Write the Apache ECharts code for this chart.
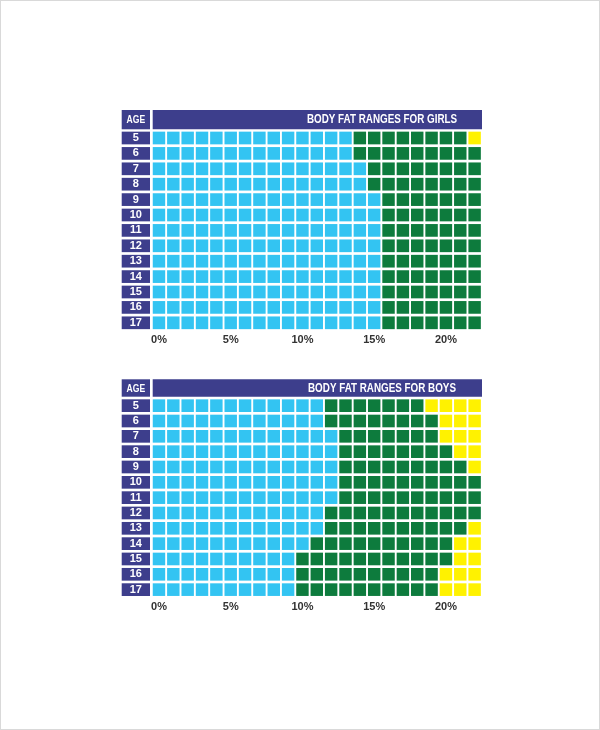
<!DOCTYPE html>
<html>
<head>
<meta charset="utf-8">
<script src="https://cdn.jsdelivr.net/npm/echarts@6/dist/echarts.min.js"></script>
<style>
html,body{margin:0;padding:0;background:#fff;}
#frame{position:absolute;left:0;top:0;width:598px;height:728px;border:1px solid #d9d9d9;}
#chart{position:absolute;left:0;top:0;width:600px;height:730px;}
</style>
</head>
<body>
<div id="frame"></div>
<div id="chart"></div>
<script>
// ---- data ----
const ages = ['5','6','7','8','9','10','11','12','13','14','15','16','17'];
const columns = ['0','1','2','3','4','5','6','7','8','9','10','11','12','13','14','15','16','17','18','19','20','21','22'];
const tickPositions = [0, 5, 10, 15, 20];
const tickLabels = ['0%', '5%', '10%', '15%', '20%'];

// number of cells per age row in each range (lean / healthy / high)
const girlsBlue   = [14, 14, 15, 15, 16, 16, 16, 16, 16, 16, 16, 16, 16];
const girlsGreen  = [ 8,  9,  8,  8,  7,  7,  7,  7,  7,  7,  7,  7,  7];
const girlsYellow = [ 1,  0,  0,  0,  0,  0,  0,  0,  0,  0,  0,  0,  0];

const boysBlue    = [12, 12, 13, 13, 13, 13, 13, 12, 12, 11, 10, 10, 10];
const boysGreen   = [ 7,  8,  7,  8,  9, 10, 10, 11, 10, 10, 11, 10, 10];
const boysYellow  = [ 4,  3,  3,  2,  1,  0,  0,  0,  1,  2,  2,  3,  3];

const girlsTitle = 'BODY FAT RANGES FOR GIRLS';
const boysTitle = 'BODY FAT RANGES FOR BOYS';
const ageHeader = 'AGE';

// ---- styles ----
const COLORS = ['#33c4f2', '#0d7b3d', '#fff200'];
const NAVY = '#3d3e8c';
const FONT = "'Liberation Sans', Arial, sans-serif";

function buildCells(blue, green, yellow) {
  const out = [];
  for (let r = 0; r < ages.length; r++) {
    let c = 0;
    for (let k = 0; k < blue[r]; k++) out.push([c++, r, 0]);
    for (let k = 0; k < green[r]; k++) out.push([c++, r, 1]);
    for (let k = 0; k < yellow[r]; k++) out.push([c++, r, 2]);
  }
  return out;
}

const GAPX = 1.9, GAPY = 2.7;
function renderCell(params, api) {
  const p = api.coord([api.value(0), api.value(1)]);
  const s = api.size([1, 1]);
  const w = s[0] - GAPX, h = s[1] - GAPY;
  return {
    type: 'rect',
    shape: { x: p[0] - w / 2, y: p[1] - h / 2, width: w, height: h },
    style: { fill: COLORS[api.value(2)] }
  };
}

const grids = [
  { left: 151.8, width: 330, top: 130.3, height: 200.2 },
  { left: 151.8, width: 330, top: 398.0, height: 199.3 }
];

function xAxisFor(i) {
  return {
    type: 'category', gridIndex: i, data: columns,
    axisLine: { show: false }, axisTick: { show: false }, splitLine: { show: false },
    axisLabel: {
      interval: 0, margin: 4, color: '#333', fontWeight: 'bold', fontSize: 11, fontFamily: FONT,
      formatter: function (v, idx) {
        const j = tickPositions.indexOf(idx);
        return j >= 0 ? tickLabels[j] : '';
      }
    }
  };
}
function yAxisFor(i) {
  return {
    type: 'category', gridIndex: i, data: ages, inverse: true,
    axisLine: { show: false }, axisTick: { show: false }, splitLine: { show: false },
    axisLabel: {
      margin: 1.8 + 14.15, color: '#fff', fontWeight: 'bold', fontSize: 11, fontFamily: FONT,
      backgroundColor: NAVY, width: 28.3, height: 12.7, lineHeight: 13, align: 'center',
      verticalAlign: 'middle'
    }
  };
}

function header(y, h, title) {
  return [
    { type: 'rect', left: 121.7, top: y, shape: { width: 28.3, height: h }, style: { fill: NAVY } },
    { type: 'rect', left: 152.7, top: y, shape: { width: 329.3, height: h }, style: { fill: NAVY } },
    { type: 'text', x: 135.85, y: y + h / 2 + 0.5, scaleX: 0.78,
      style: { text: ageHeader, fill: '#fff', font: 'bold 11px ' + FONT, align: 'center', verticalAlign: 'middle' } },
    { type: 'text', x: 382, y: y + h / 2 + 0.5, scaleX: 0.82,
      style: { text: title, fill: '#fff', font: 'bold 12px ' + FONT, align: 'center', verticalAlign: 'middle' } }
  ];
}

const chart = echarts.init(document.getElementById('chart'), null, { renderer: 'canvas' });
chart.setOption({
  animation: false,
  backgroundColor: 'transparent',
  grid: grids,
  xAxis: [xAxisFor(0), xAxisFor(1)],
  yAxis: [yAxisFor(0), yAxisFor(1)],
  graphic: [].concat(header(110, 19.3, girlsTitle), header(379.3, 17.4, boysTitle)),
  series: [
    { type: 'custom', xAxisIndex: 0, yAxisIndex: 0, renderItem: renderCell, data: buildCells(girlsBlue, girlsGreen, girlsYellow) },
    { type: 'custom', xAxisIndex: 1, yAxisIndex: 1, renderItem: renderCell, data: buildCells(boysBlue, boysGreen, boysYellow) }
  ]
});
</script>
</body>
</html>
